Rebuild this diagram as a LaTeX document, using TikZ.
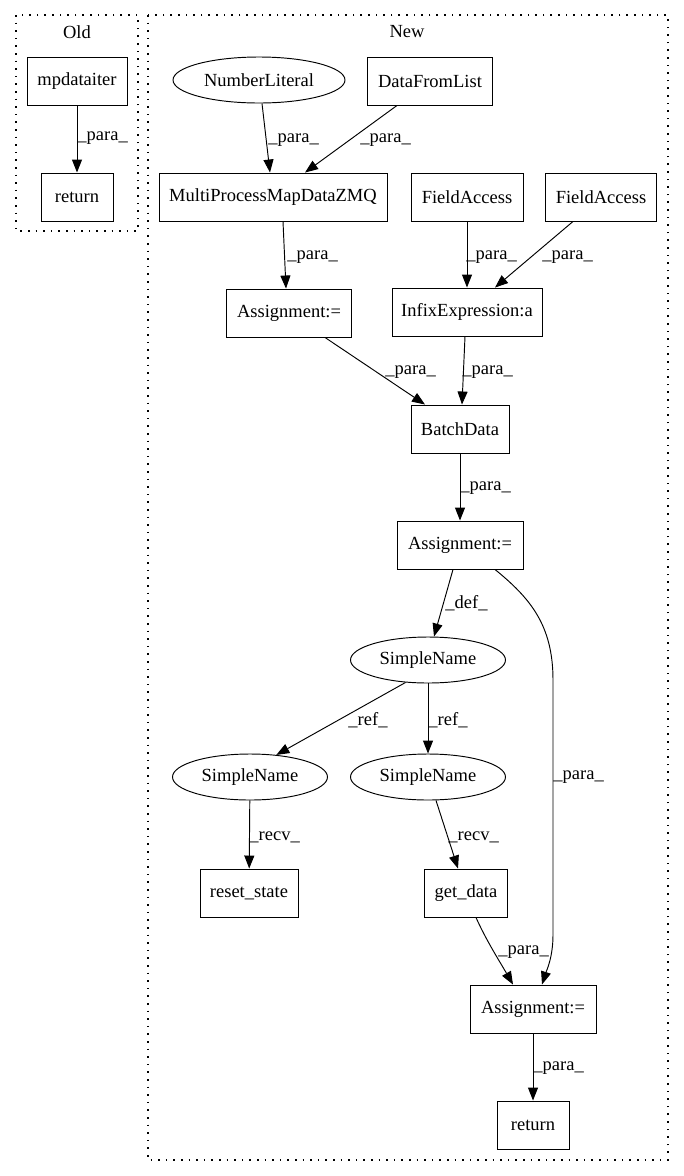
\documentclass[tikz,border=0pt]{standalone}
\usepackage{fontspec}
\setmainfont{Liberation Serif}
\usetikzlibrary{shapes.geometric,arrows.meta}
\begin{document}
\begin{tikzpicture}[x=1pt,y=-1pt,
  every node/.style={font=\fontsize{18.5}{20}\selectfont},
  box/.style={draw, rectangle, minimum height=48pt, inner sep=0pt, line width=0.95pt},
  ell/.style={draw, ellipse, minimum height=46pt, inner sep=0pt, line width=0.95pt},
  lbl/.style={anchor=west, inner sep=0pt},
  cl/.style={draw, line width=1.1pt, dash pattern=on 1.6pt off 6pt},
  edge/.style={draw, line width=0.95pt, -{Triangle[length=13pt,width=10pt]}}]
\useasboundingbox (0,0) rectangle (684,1176);
% clusters
\path[cl] (16,15) rectangle (138,231);
\path[cl] (148,15) rectangle (668,1160);
\node (old) at (77,32) {Old};
\node (new) at (407,32) {New};
% Old nodes
\node[box, minimum width=100pt] (mp) at (77,81) {mpdataiter};
\node[box, minimum width=72pt] (ret0) at (77,197) {return};
% New nodes
\node[ell, minimum width=172pt] (nl) at (259,80) {NumberLiteral};
\node[box, minimum width=125pt] (dfl) at (430,81) {DataFromList};
\node[box, minimum width=228pt] (mpm) at (273,197) {MultiProcessMapDataZMQ};
\node[box, minimum width=112pt] (fa1) at (467,197) {FieldAccess};
\node[box, minimum width=111pt] (fa2) at (601,197) {FieldAccess};
\node[box, minimum width=125pt] (a1) at (289,313) {Assignment:=};
\node[box, minimum width=150pt] (inf) at (467,312) {InfixExpression:a};
\node[box, minimum width=98pt] (bd) at (460,429) {BatchData};
\node[box, minimum width=126pt] (a2) at (460,545) {Assignment:=};
\node[ell, minimum width=155pt] (sn) at (428,660) {SimpleName};
\node[ell, minimum width=155pt] (snl) at (250,777) {SimpleName};
\node[ell, minimum width=155pt] (snr) at (428,777) {SimpleName};
\node[box, minimum width=98pt] (rs) at (249,893) {reset\_state};
\node[box, minimum width=83pt] (gd) at (466,893) {get\_data};
\node[box, minimum width=126pt] (a3) at (533,1009) {Assignment:=};
\node[box, minimum width=72pt] (ret1) at (533,1125) {return};
% edges
\path[edge] (mp) -- (ret0) node[lbl] (l0) at (77,138) {\_para\_};
\path[edge] ([xshift=3pt]nl.south) -- ([xshift=-3pt]mpm.north) node[lbl] (l1) at (268,140) {\_para\_};
\path[edge] ([xshift=-33pt]dfl.south) -- ([xshift=32pt]mpm.north) node[lbl] (l2) at (360,140) {\_para\_};
\path[edge] ([xshift=10pt]mpm.south) -- ([xshift=-3pt]a1.north) node[lbl] (l3) at (287,257) {\_para\_};
\path[edge] (fa1) -- (inf) node[lbl] (l4) at (466,257) {\_para\_};
\path[edge] ([xshift=-28pt]fa2.south) -- ([xshift=28pt]inf.north) node[lbl] (l5) at (542,257) {\_para\_};
\path[edge] ([xshift=36pt]a1.south) -- ([xshift=-35pt]bd.north) node[lbl] (l6) at (385,372) {\_para\_};
\path[edge] ([xshift=-2pt]inf.south) -- ([xshift=2pt]bd.north) node[lbl] (l7) at (462,372) {\_para\_};
\path[edge] (bd) -- (a2) node[lbl] (l8) at (460,488) {\_para\_};
\path[edge] ([xshift=-7pt]a2.south) -- ([xshift=6pt]sn.north) node[lbl] (l9) at (445,603) {\_def\_};
\path[edge] ([xshift=35pt]a2.south) .. controls (530,598) and (553,625) .. (553,680) -- (553,935) .. controls (553,958) and (546,972) .. ([xshift=9pt]a3.north) node[lbl] (l10) at (553,777) {\_para\_};
\path[edge] (sn.225) -- (snl.40) node[lbl] (l11) at (348,720) {\_ref\_};
\path[edge] (sn) -- (snr) node[lbl] (l12) at (428,720) {\_ref\_};
\path[edge] (snl) -- (rs) node[lbl] (l13) at (249,837) {\_recv\_};
\path[edge] ([xshift=8pt]snr.south) -- ([xshift=-8pt]gd.north) node[lbl] (l14) at (448,837) {\_recv\_};
\path[edge] ([xshift=10pt]gd.south) .. controls (486,940) and (500,962) .. ([xshift=-20pt]a3.north) node[lbl] (l15) at (498,952) {\_para\_};
\path[edge] (a3) -- (ret1) node[lbl] (l16) at (533,1068) {\_para\_};
\end{tikzpicture}
\end{document}
